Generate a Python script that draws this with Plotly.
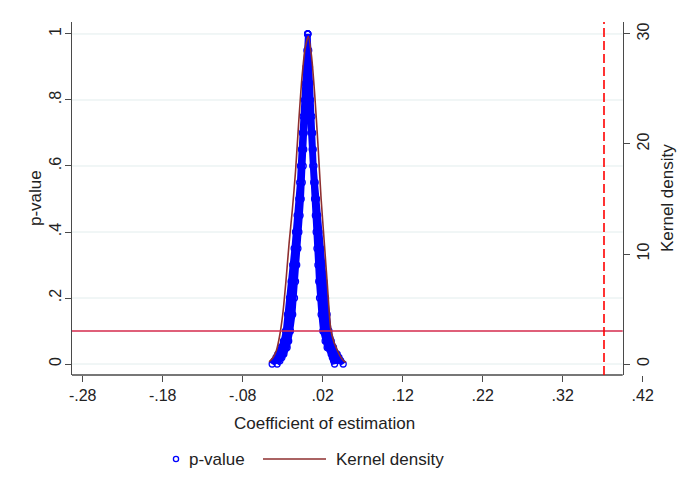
import plotly.graph_objects as go

# ---------------- data ----------------
# p-value scatter: band edges (marker centres) at p-value levels
p_levels    = [0.00, 0.01, 0.02, 0.03, 0.05, 0.07, 0.10, 0.15, 0.20, 0.25, 0.30, 0.35, 0.40, 0.45,
               0.50, 0.55, 0.60, 0.65, 0.70, 0.75, 0.80, 0.85, 0.90, 0.95, 1.00]
left_outer  = [-0.0432, -0.0405, -0.0383, -0.0361, -0.0325, -0.0290, -0.0265, -0.0240, -0.0215, -0.0195,
               -0.0175, -0.0157, -0.0140, -0.0120, -0.0099, -0.0088, -0.0078, -0.0066, -0.0055, -0.0045,
               -0.0028, -0.0018, -0.0008, 0.0002, 0.0013]
left_inner  = [-0.0369, -0.0335, -0.0310, -0.0285, -0.0245, -0.0225, -0.0203, -0.0175, -0.0153, -0.0140,
               -0.0125, -0.0110, -0.0098, -0.0083, -0.0069, -0.0056, -0.0044, -0.0037, -0.0030, -0.0010,
               0.0005, 0.0008, 0.0010, 0.0012, 0.0013]
right_inner = [0.0348, 0.0335, 0.0320, 0.0305, 0.0255, 0.0230, 0.0201, 0.0180, 0.0160, 0.0150,
               0.0140, 0.0128, 0.0118, 0.0108, 0.0098, 0.0087, 0.0076, 0.0068, 0.0060, 0.0035,
               0.0020, 0.0018, 0.0015, 0.0014, 0.0013]
right_outer = [0.0456, 0.0425, 0.0403, 0.0381, 0.0335, 0.0305, 0.0278, 0.0255, 0.0235, 0.0215,
               0.0195, 0.0173, 0.0153, 0.0138, 0.0123, 0.0106, 0.0090, 0.0082, 0.0075, 0.0065,
               0.0048, 0.0042, 0.0035, 0.0025, 0.0013]

# kernel density of the placebo coefficients
kd_x = [-0.047, -0.042, -0.038, -0.034, -0.030, -0.026, -0.022, -0.018, -0.014, -0.010, -0.006, -0.002,
        0.002, 0.006, 0.010, 0.014, 0.018, 0.022, 0.026, 0.030, 0.034, 0.038, 0.042, 0.046, 0.049]
kd_y = [0.2, 0.6, 1.2, 2.5, 4.5, 7.5, 11.0, 14.0, 17.5, 22.0, 26.0, 28.7,
        29.8, 28.0, 24.5, 20.0, 15.0, 11.0, 7.0, 3.2, 2.0, 1.3, 0.7, 0.3, 0.15]

true_coef = 0.3716          # vertical dashed line
p_cut = 0.1                 # horizontal reference line

x_ticks = [-0.28, -0.18, -0.08, 0.02, 0.12, 0.22, 0.32, 0.42]
x_ticktext = ['-.28', '-.18', '-.08', '.02', '.12', '.22', '.32', '.42']
y_ticks = [0, 0.2, 0.4, 0.6, 0.8, 1.0]
y_ticktext = ['0', '.2', '.4', '.6', '.8', '1']
y2_ticks = [0, 10, 20, 30]

# ---------------- geometry ----------------
W, H = 682, 501
L, R, T, B = 72, 22, 22, 126
PW = W - L - R            # 588
PH = H - T - B            # 353
X_RANGE = [-0.2934, -0.2934 + PW / 800.0]
Y_RANGE = [-0.0333, 1.0363]
Y2_RANGE = [Y_RANGE[0] * 30, Y_RANGE[1] * 30]
RIGHT_AX = (622.7 - L) / PW

def px(x):
    return (x - L) / PW

def py(y):
    return (H - B - y) / PH

FONT = "Liberation Sans, Arial, sans-serif"
BLUE = "#0000ff"
KD_COL = "#8e2f2f"
AX_COL = "#4a4a4a"
GRID = "#e2eded"
TXT = "#222222"

fig = go.Figure()

# filled band for the dense scatter (left & right branch); the thick outline
# stands for the radius of the hollow markers
fig.add_trace(go.Scatter(
    x=left_outer + left_inner[::-1], y=p_levels + p_levels[::-1],
    fill="toself", fillcolor=BLUE, mode="lines", line=dict(color=BLUE, width=5.5),
    showlegend=False, hoverinfo="skip"))
fig.add_trace(go.Scatter(
    x=right_inner + right_outer[::-1], y=p_levels + p_levels[::-1],
    fill="toself", fillcolor=BLUE, mode="lines", line=dict(color=BLUE, width=5.5),
    showlegend=False, hoverinfo="skip"))

# scatter points
fig.add_trace(go.Scatter(
    x=left_outer + left_inner + right_inner + right_outer,
    y=p_levels * 4,
    mode="markers", name="p-value",
    marker=dict(symbol="circle-open", size=6, color=BLUE, line=dict(width=1.3, color=BLUE)),
    showlegend=False))

# kernel density on right axis
fig.add_trace(go.Scatter(
    x=kd_x, y=kd_y, yaxis="y2", mode="lines", name="Kernel density",
    line=dict(color=KD_COL, width=1.6, shape="spline", smoothing=0.6), showlegend=False))

shapes = []
# horizontal gridlines (stop at right axis)
for v in y_ticks:
    shapes.append(dict(type="line", xref="paper", yref="y", x0=0, x1=RIGHT_AX, y0=v, y1=v,
                       line=dict(color=GRID, width=1), layer="below"))
# bottom axis line
shapes.append(dict(type="line", xref="paper", yref="paper", x0=0, x1=RIGHT_AX, y0=0, y1=0,
                   line=dict(color=AX_COL, width=1.4)))
# p = 0.1 line
shapes.append(dict(type="line", xref="paper", yref="y", x0=0, x1=RIGHT_AX, y0=p_cut, y1=p_cut,
                   line=dict(color="#d42a4c", width=1.4)))
# true coefficient line
shapes.append(dict(type="line", xref="x", yref="paper", x0=true_coef, x1=true_coef, y0=0, y1=1,
                   line=dict(color="#ff0000", width=1.6, dash="9px,4px")))

# manual legend
ly = py(459)
shapes.append(dict(type="circle", xref="paper", yref="paper",
                   x0=px(176) - 2.6 / PW, x1=px(176) + 2.6 / PW,
                   y0=ly - 2.6 / PH, y1=ly + 2.6 / PH,
                   line=dict(color=BLUE, width=1.3)))
shapes.append(dict(type="line", xref="paper", yref="paper", x0=px(263), x1=px(326), y0=ly, y1=ly,
                   line=dict(color=KD_COL, width=1.6)))

annotations = [
    dict(text="p-value", xref="paper", yref="paper", x=px(187), y=ly, xanchor="left", yanchor="middle",
         showarrow=False, font=dict(family=FONT, size=17, color=TXT)),
    dict(text="Kernel density", xref="paper", yref="paper", x=px(334), y=ly, xanchor="left", yanchor="middle",
         showarrow=False, font=dict(family=FONT, size=17, color=TXT)),
    dict(text="Coefficient of estimation", xref="paper", yref="paper", x=px(324.5), y=py(424),
         xanchor="center", yanchor="middle", showarrow=False, font=dict(family=FONT, size=17, color=TXT)),
    # axis titles
    dict(text="p-value", xref="paper", yref="paper", x=px(35), y=py(198), textangle=-90,
         xanchor="center", yanchor="middle", showarrow=False, font=dict(family=FONT, size=17, color=TXT)),
    dict(text="Kernel density", xref="paper", yref="paper", x=px(667), y=py(198), textangle=-90,
         xanchor="center", yanchor="middle", showarrow=False, font=dict(family=FONT, size=17, color=TXT)),
]

fig.update_layout(
    width=W, height=H, margin=dict(l=L, r=R, t=T, b=B),
    paper_bgcolor="white", plot_bgcolor="white",
    font=dict(family=FONT, size=16, color=TXT),
    showlegend=False,
    xaxis=dict(range=X_RANGE, tickvals=x_ticks, ticktext=x_ticktext, showgrid=False, zeroline=False,
               showline=False, ticks="outside", ticklen=6, tickwidth=1.3, tickcolor=AX_COL,
               tickfont=dict(size=16)),
    yaxis=dict(range=Y_RANGE, tickvals=y_ticks, ticktext=y_ticktext, tickangle=-90, showgrid=False,
               zeroline=False, showline=True, linecolor=AX_COL, linewidth=1.4, ticks="outside",
               ticklen=6, tickwidth=1.3, tickcolor=AX_COL, tickfont=dict(size=16),
               ticklabelstandoff=-3),
    yaxis2=dict(range=Y2_RANGE, tickvals=y2_ticks, tickangle=-90, overlaying="y", side="right",
                anchor="free", position=RIGHT_AX, showgrid=False, zeroline=False, showline=True,
                linecolor=AX_COL, linewidth=1.4, ticks="outside", ticklen=6, tickwidth=1.3,
                tickcolor=AX_COL, tickfont=dict(size=16)),
    shapes=shapes, annotations=annotations,
)

fig.write_html("out.html")
